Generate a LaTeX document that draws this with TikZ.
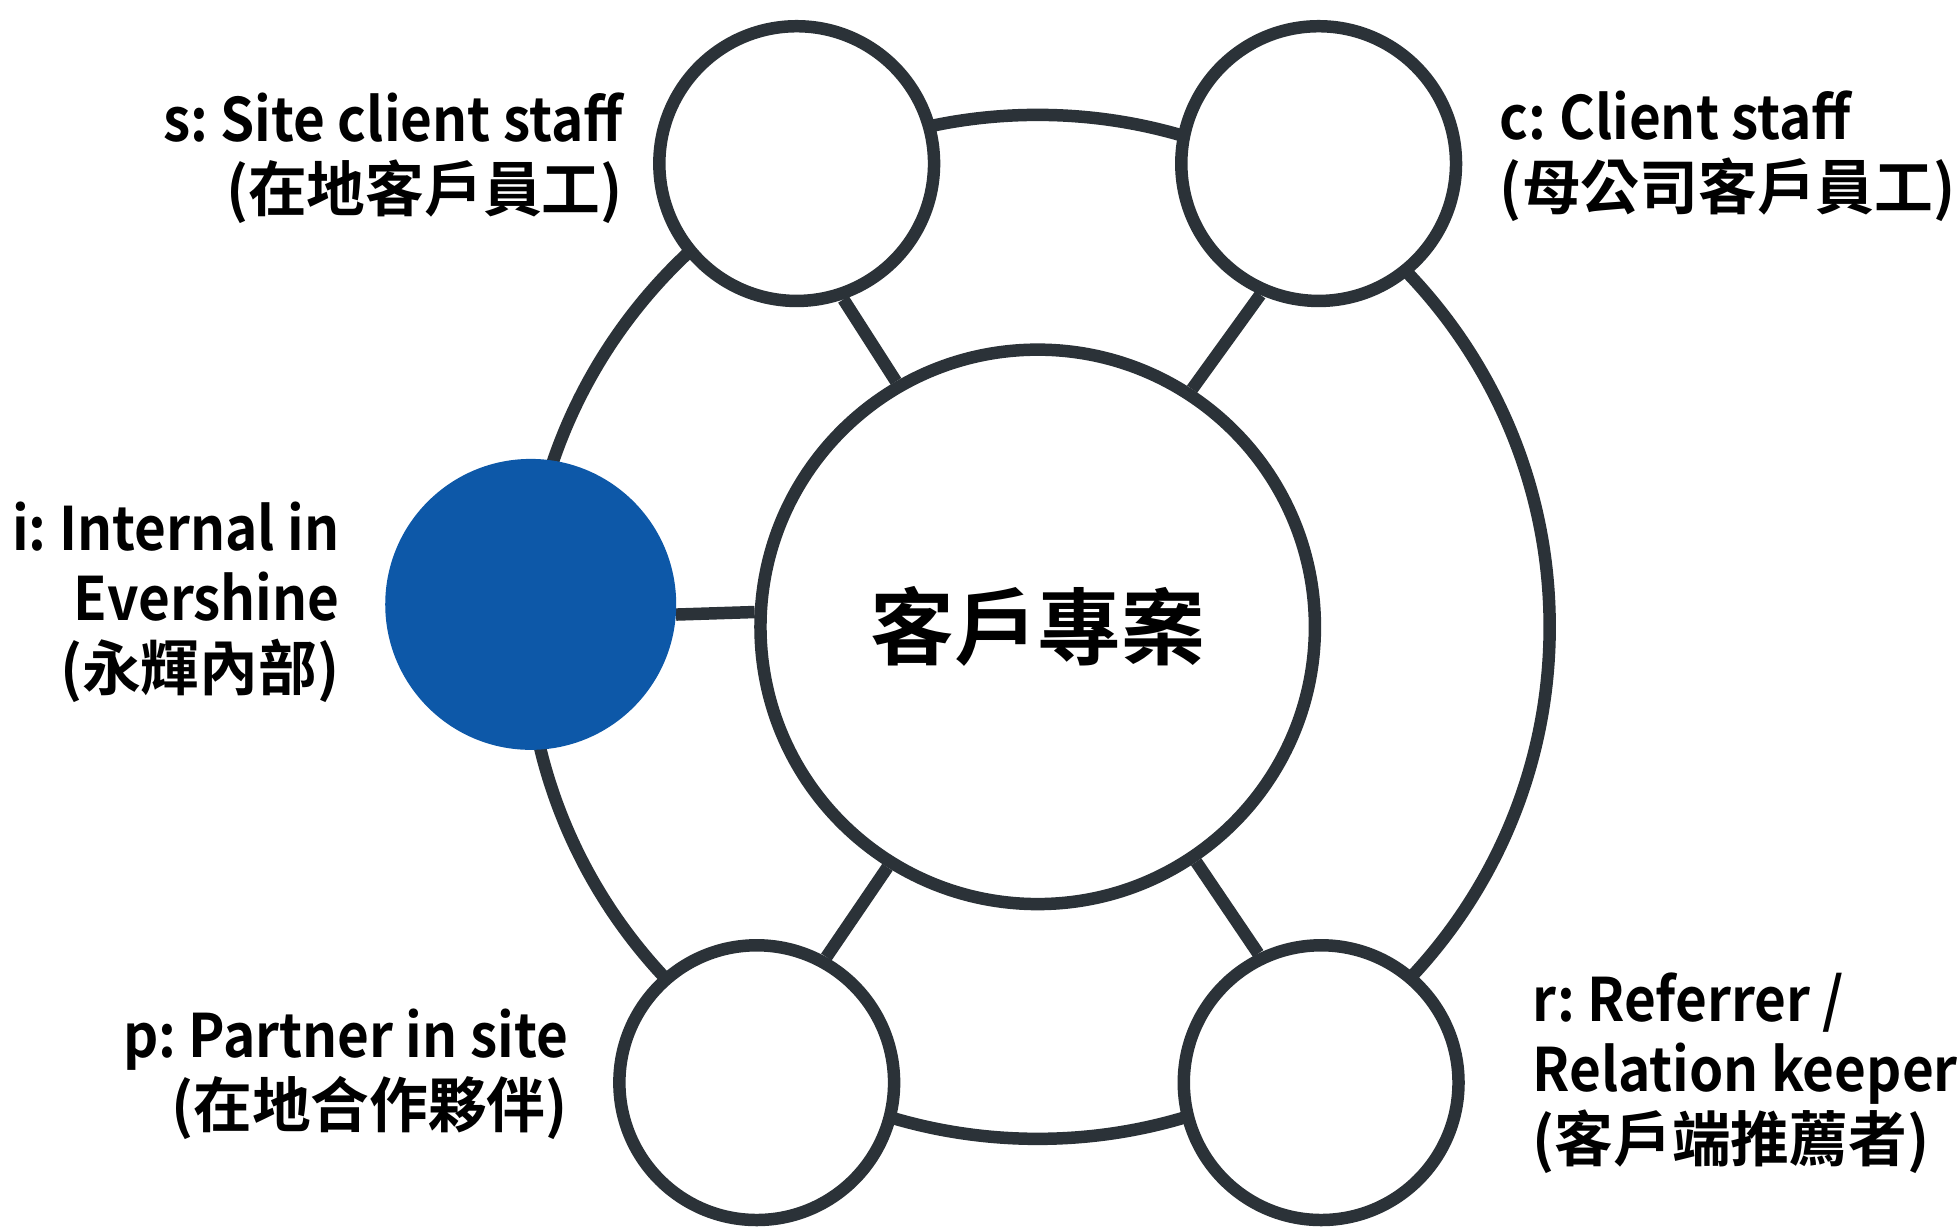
\documentclass[tikz,border=0pt]{standalone}
\usepackage{fontspec}
\setmainfont{Noto Sans CJK TC}[BoldFont={Noto Sans CJK TC Bold}]
\newfontfamily\latf{Noto Sans CJK TC Bold}[FakeStretch=0.915]
\newfontfamily\cjkf{Noto Sans CJK TC Bold}[FakeStretch=0.98]
\usetikzlibrary{backgrounds}
\definecolor{ink}{HTML}{2B3238}
\definecolor{bluefill}{HTML}{0D58A8}
\frenchspacing
\begin{document}
\begin{tikzpicture}[x=1pt,y=-1pt,
  role/.style={circle,draw=ink,line width=10pt,fill=white,minimum size=220pt,inner sep=0pt},
  hub/.style={circle,draw=ink,line width=10pt,fill=white,minimum size=444pt,inner sep=0pt,
    font=\fontsize{67}{67}\selectfont\bfseries},
  selfnode/.style={circle,fill=bluefill,minimum size=233pt,inner sep=0pt},
  link/.style={draw=ink,line width=10pt},
  lbl/.style={font=\fontsize{48}{56}\selectfont\frenchspacing,text=black,inner sep=0pt},
]
\useasboundingbox (0,0) rectangle (1568,982);

\node[hub] (ctr) at (831,502) {\raisebox{5pt}{客戶專案}};
\node[role] (s) at (638,131) {};
\node[role] (c) at (1056,131) {};
\node[selfnode] (i) at (425,484) {};
\node[role] (p) at (606,867) {};
\node[role] (r) at (1058,867) {};

\begin{scope}[on background layer]
  \fill[white] (0,0) rectangle (1568,982);
  \draw[link] (ctr.center) circle[radius=410pt];
  \draw[link] (s.-71) -- (ctr.120);
  \draw[link] (c.-114) -- (ctr.57);
  \draw[link] (i.-4) -- (ctr.177.5);
  \draw[link] (p.61) -- (ctr.238);
  \draw[link] (r.116) -- (ctr.-56);
\end{scope}

\node[lbl,anchor=base east,align=right] (sl) at (499,169) {{\latf s: Site client staff}\\{\cjkf (在地客戶員工)}};
\node[lbl,anchor=base west,align=left] (cl) at (1201,168) {{\latf c: Client staff}\\{\cjkf (母公司客戶員工)}};
\node[lbl,anchor=base east,align=right] (il) at (272,553) {{\latf i: Internal in}\\{\latf Evershine}\\{\cjkf (永輝內部)}};
\node[lbl,anchor=base east,align=right] (pl) at (455,903) {{\latf p: Partner in site}\\{\cjkf (在地合作夥伴)}};
\node[lbl,anchor=base west,align=left] (rl) at (1227,930) {{\latf r: Referrer /}\\{\latf Relation keeper}\\{\cjkf (客戶端推薦者)}};
\end{tikzpicture}
\end{document}
